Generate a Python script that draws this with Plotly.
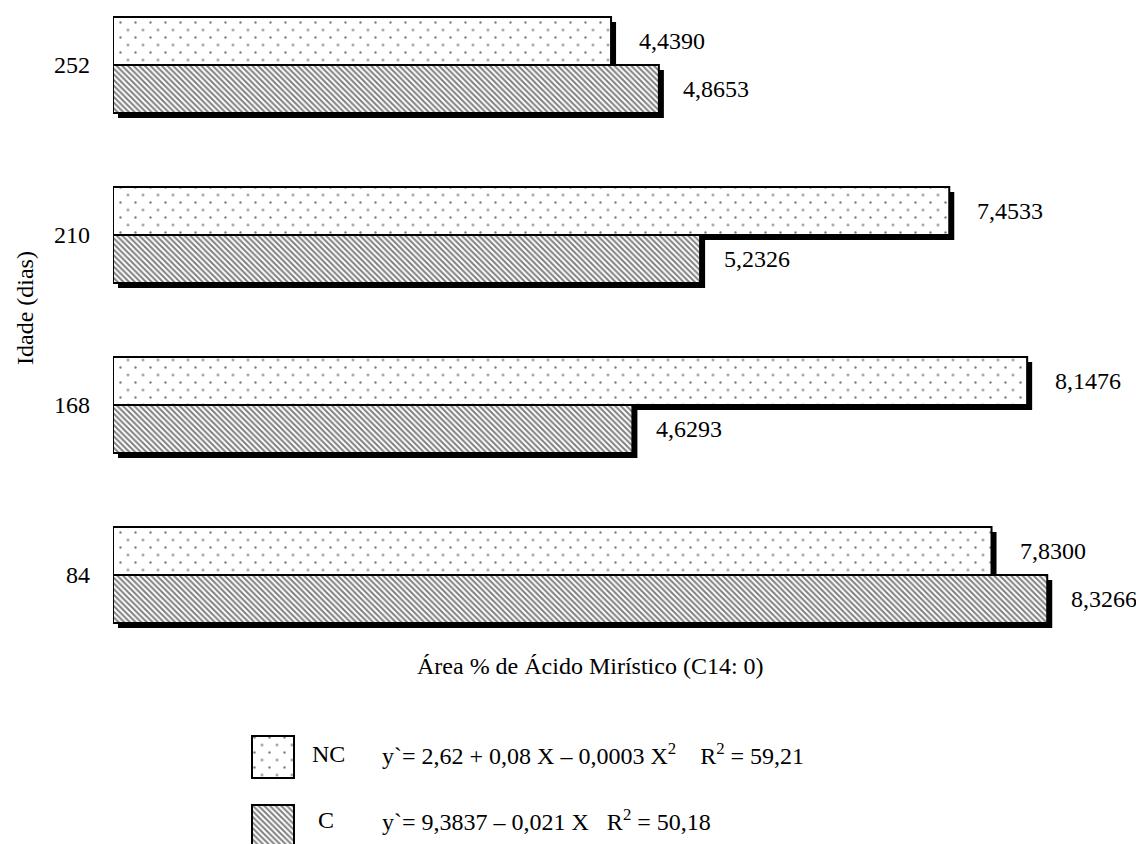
import plotly.graph_objects as go

# ---- data ----
idade = ["84", "168", "210", "252"]
nc_vals = [7.8300, 8.1476, 7.4533, 4.4390]
c_vals = [8.3266, 4.6293, 5.2326, 4.8653]
nc_labels = ["7,8300", "8,1476", "7,4533", "4,4390"]
c_labels = ["8,3266", "4,6293", "5,2326", "4,8653"]
x_title = "Área % de Ácido Mirístico (C14: 0)"
y_title = "Idade (dias)"
leg_nc_name = "NC"
leg_c_name = "C"
leg_nc_eq = "y`= 2,62 + 0,08 X \u2013 0,0003 X<sup>2</sup>    R<sup>2</sup> = 59,21"
leg_c_eq = "y`= 9,3837 \u2013 0,021 X   R<sup>2</sup> = 50,18"

# ---- layout constants (pixels) ----
W, H = 1136, 844
FONT = dict(family="Liberation Serif", size=24, color="black")
xs = 112.2            # px per x unit
ys = 170.0            # px per category step
left_px, right_px = 113, 1100
top_px, bot_px = 0, 640
x_max = (right_px - left_px) / xs
y_hi = 3 + 65 / ys
y_lo = -(bot_px - 65 - 3 * ys) / ys
bar_w = 48 / ys
sh_dx = 5 / xs
sh_dy = 5 / ys
stag = 7.5            # stagger offset of dot lattice (px)
dot_size = 15
pos = list(range(len(idade)))
CLEAR = "rgba(0,0,0,0)"

def dots(bg="white"):
    return dict(shape=".", size=dot_size, solidity=0.02, fgcolor="black", bgcolor=bg, fillmode="overlay")

hatch = dict(shape="\\", size=4, solidity=0.5, fgcolor="black", bgcolor="white", fillmode="overlay")
outline = dict(color="black", width=2)
noline = dict(width=0)

fig = go.Figure()

# shadows
fig.add_trace(go.Bar(y=pos, x=nc_vals, base=sh_dx, orientation="h", width=bar_w,
                     offset=-sh_dy, marker=dict(color="black", line=noline), hoverinfo="skip"))
fig.add_trace(go.Bar(y=pos, x=c_vals, base=sh_dx, orientation="h", width=bar_w,
                     offset=-bar_w - sh_dy, marker=dict(color="black", line=noline), hoverinfo="skip"))
# main bars
fig.add_trace(go.Bar(y=pos, x=nc_vals, orientation="h", width=bar_w, offset=0,
                     marker=dict(color="white", pattern=dots(), line=outline), name=leg_nc_name))
fig.add_trace(go.Bar(y=pos, x=c_vals, orientation="h", width=bar_w, offset=-bar_w,
                     marker=dict(color="white", pattern=hatch, line=outline), name=leg_c_name))
# staggered dot layer: same NC bars on a subplot shifted by half a lattice step
fig.add_trace(go.Bar(y=pos, x=nc_vals, orientation="h", width=bar_w, offset=0,
                     xaxis="x3", yaxis="y3", cliponaxis=False,
                     marker=dict(color=CLEAR, pattern=dots(CLEAR), line=noline), hoverinfo="skip"))

# legend boxes (small separate subplot, pixel-unit ranges)
box = 42
leg_y_top = 700
fig.add_trace(go.Bar(y=[H - 757], x=[1], orientation="h", width=box, xaxis="x2", yaxis="y2",
                     marker=dict(color="white", pattern=dots(), line=outline), hoverinfo="skip"))
fig.add_trace(go.Bar(y=[H - 826], x=[1], orientation="h", width=box, xaxis="x2", yaxis="y2",
                     marker=dict(color="white", pattern=hatch, line=outline), hoverinfo="skip"))
fig.add_trace(go.Bar(y=[H - 757], x=[1], orientation="h", width=box, xaxis="x4", yaxis="y4",
                     cliponaxis=False,
                     marker=dict(color=CLEAR, pattern=dots(CLEAR), line=noline), hoverinfo="skip"))

annotations = []
for p, v, t in zip(pos, nc_vals, nc_labels):
    annotations.append(dict(x=v, y=p + bar_w / 2, xref="x", yref="y", text=t, showarrow=False,
                            xanchor="left", yanchor="middle", xshift=26, font=FONT))
for p, v, t in zip(pos, c_vals, c_labels):
    annotations.append(dict(x=v, y=p - bar_w / 2, xref="x", yref="y", text=t, showarrow=False,
                            xanchor="left", yanchor="middle", xshift=22, font=FONT))

def pap(xp, yp):
    return xp / W, (H - yp) / H

ax, ay = pap(590, 666)
annotations.append(dict(x=ax, y=ay, xref="paper", yref="paper", text=x_title, showarrow=False,
                        xanchor="center", yanchor="middle", font=FONT))
ax, ay = pap(25, 308)
annotations.append(dict(x=ax, y=ay, xref="paper", yref="paper", text=y_title, showarrow=False,
                        xanchor="center", yanchor="middle", textangle=-90, font=FONT))
for txt, xp, yp in [(leg_nc_name, 310, 754), (leg_nc_eq, 380, 754),
                    (leg_c_name, 316, 820), (leg_c_eq, 380, 820)]:
    ax, ay = pap(xp, yp)
    annotations.append(dict(x=ax, y=ay, xref="paper", yref="paper", text=txt, showarrow=False,
                            xanchor="left", yanchor="middle", font=FONT))

# legend subplot geometry: box x 252..294 px
lx0, lx1 = 232, 314
leg_xr = [-(252 - lx0) / box, 1 + (lx1 - 294) / box]
leg_h = H - leg_y_top

fig.update_layout(
    width=W, height=H,
    margin=dict(l=0, r=0, t=0, b=0),
    paper_bgcolor="white", plot_bgcolor=CLEAR,
    barmode="overlay",
    font=FONT,
    showlegend=False,
    xaxis=dict(domain=[left_px / W, right_px / W], range=[0, x_max], visible=False),
    yaxis=dict(domain=[(H - bot_px) / H, (H - top_px) / H], range=[y_lo, y_hi], showgrid=False,
               zeroline=False, showline=False, tickvals=pos, ticktext=idade, ticks="",
               ticklabelstandoff=22, tickfont=FONT),
    xaxis3=dict(domain=[(left_px + stag) / W, (right_px + stag) / W],
                range=[stag / xs, x_max + stag / xs], anchor="y3", visible=False),
    yaxis3=dict(domain=[(H - bot_px - stag) / H, (H - top_px - stag) / H],
                range=[y_lo - stag / ys, y_hi - stag / ys], anchor="x3", visible=False),
    xaxis2=dict(domain=[lx0 / W, lx1 / W], range=leg_xr, anchor="y2", visible=False),
    yaxis2=dict(domain=[0, leg_h / H], range=[0, leg_h], anchor="x2", visible=False),
    xaxis4=dict(domain=[(lx0 + stag) / W, (lx1 + stag) / W],
                range=[leg_xr[0] + stag / box, leg_xr[1] + stag / box], anchor="y4", visible=False),
    yaxis4=dict(domain=[stag / H, (leg_h + stag) / H], range=[stag, leg_h + stag],
                anchor="x4", visible=False),
    annotations=annotations,
)

fig.write_html("out.html", config={"displayModeBar": False},
               post_script="document.body.style.margin='0px';")
